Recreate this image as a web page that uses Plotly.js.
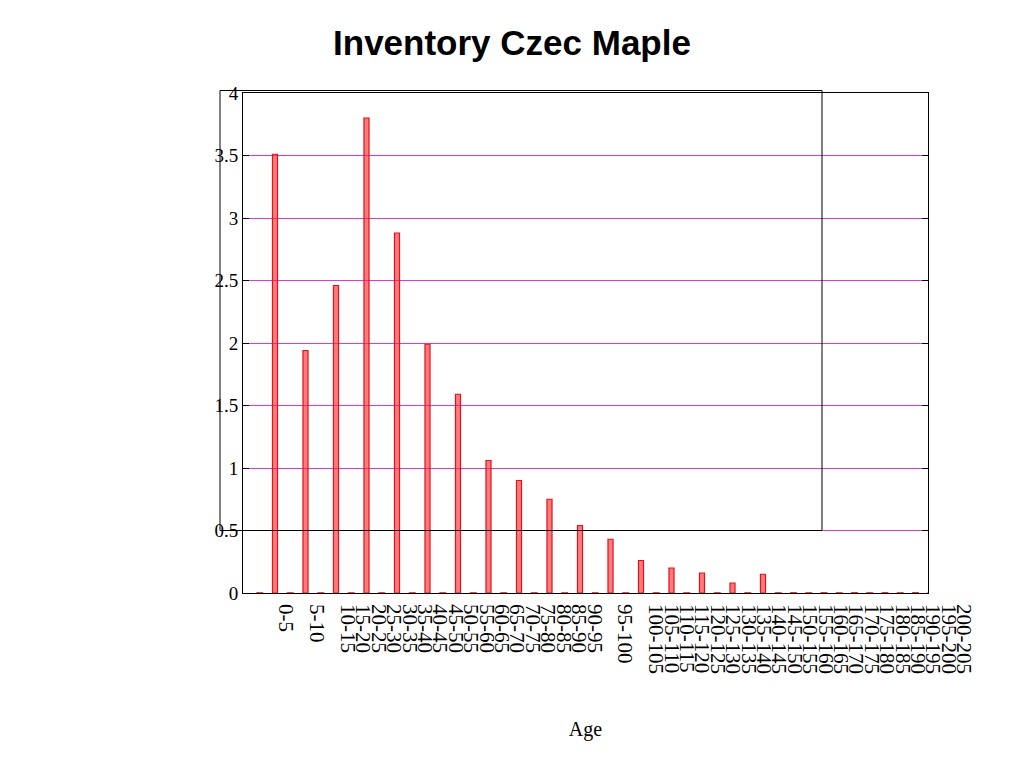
<!DOCTYPE html>
<html>
<head>
<meta charset="utf-8">
<script src="https://cdn.plot.ly/plotly-3.0.1.min.js"></script>
<style>
  html, body { margin: 0; padding: 0; background: #ffffff; }
  #chart { width: 1024px; height: 768px; }
</style>
</head>
<body>
<div id="chart"></div>
<script>
// ---------------- data ----------------
const ageClasses = [
  '0-5', '5-10', '10-15', '15-20', '20-25', '25-30', '30-35', '35-40', '40-45', '45-50',
  '50-55', '55-60', '60-65', '65-70', '70-75', '75-80', '80-85', '85-90', '90-95', '95-100',
  '100-105', '105-110', '110-115', '115-120', '120-125', '125-130', '130-135', '135-140',
  '140-145', '145-150', '150-155', '155-160', '160-165', '165-170', '170-175', '175-180',
  '180-185', '185-190', '190-195', '195-200', '200-205'
];

const inventory = [
  3.51, 1.94, 2.46, 3.80, 2.88, 1.99, 1.59, 1.06, 0.90, 0.75,
  0.54, 0.43, 0.26, 0.20, 0.16, 0.08, 0.15, 0, 0, 0,
  0, 0, 0, 0, 0, 0, 0, 0, 0, 0,
  0, 0, 0, 0, 0, 0, 0, 0, 0, 0,
  0
];

// second (empty) series drawn just left of each inventory bar
const emptySeries = [
  0, 0, 0, 0, 0, 0, 0, 0, 0, 0,
  0, 0, 0, 0, 0, 0, 0, 0, 0, 0,
  0, 0, 0, 0, 0, 0, 0, 0, 0, 0,
  0, 0, 0, 0, 0, 0, 0, 0, 0, 0,
  0
];

const yTicks = [0, 0.5, 1, 1.5, 2, 2.5, 3, 3.5, 4];

// ---------------- layout constants ----------------
const PLOT_L = 243, PLOT_R = 928, PLOT_T = 93, PLOT_B = 593, LABEL_R = 990;
const PX_PER_CLASS = 30.5, FIRST_BAR_PX = 275;
const xMin = (PLOT_L - FIRST_BAR_PX) / PX_PER_CLASS;
const xMax = (PLOT_R - FIRST_BAR_PX) / PX_PER_CLASS;
const xMax2 = (LABEL_R - FIRST_BAR_PX) / PX_PER_CLASS;
const mainDomain = (PLOT_R - PLOT_L) / (LABEL_R - PLOT_L);

// tick label placement (labels are packed at half-class spacing, shifted by label length)
const LABEL0 = 1.38, LABEL_STEP = 0.505;
const labelPos = ageClasses.map((lab, k) => LABEL0 + LABEL_STEP * (k + lab.length - 5));

const classIdx = ageClasses.map((_, i) => i);

// zero-height bars are drawn as a flat outline on the baseline
const zeroX = [], zeroY = [];
inventory.forEach((v, i) => { if (v === 0) { zeroX.push(i); zeroY.push(v); } });
emptySeries.forEach((v, i) => { if (v === 0) { zeroX.push(i - 0.5); zeroY.push(v); } });

const RED_FILL = 'rgba(255, 40, 40, 0.62)';
const RED_LINE = 'rgb(228, 16, 28)';
const SERIF = 'Liberation Serif, Times New Roman, serif';

const traces = [
  {
    type: 'bar',
    x: classIdx,
    y: inventory,
    width: 0.165,
    marker: { color: RED_FILL, line: { color: RED_LINE, width: 1.2 } },
    hoverinfo: 'y',
    showlegend: false
  },
  {
    type: 'scatter',
    mode: 'markers',
    x: zeroX,
    y: zeroY,
    marker: { symbol: 'line-ew', size: 5, line: { color: RED_LINE, width: 1.6 } },
    cliponaxis: true,
    hoverinfo: 'skip',
    showlegend: false
  },
  {
    type: 'scatter', mode: 'markers', x: [], y: [],
    xaxis: 'x2', yaxis: 'y2', showlegend: false, hoverinfo: 'skip'
  }
];

const layout = {
  width: 1024,
  height: 768,
  paper_bgcolor: '#ffffff',
  plot_bgcolor: 'rgba(0,0,0,0)',
  margin: { l: PLOT_L, r: 1024 - LABEL_R, t: PLOT_T, b: 768 - PLOT_B, pad: 0 },
  showlegend: false,
  title: {
    text: 'Inventory Czec Maple',
    font: { family: 'Liberation Sans, Arial, sans-serif', size: 35, color: '#000000', weight: 'bold' },
    x: 0.5, xref: 'container', xanchor: 'center',
    y: 1 - 43 / 768, yref: 'container', yanchor: 'middle'
  },
  xaxis: {
    domain: [0, mainDomain],
    range: [xMin, xMax],
    showline: true, mirror: true, linecolor: '#000000', linewidth: 1,
    ticks: '', showticklabels: false, showgrid: false, zeroline: false,
    automargin: false,
    title: { text: 'Age', font: { family: SERIF, size: 20, color: '#000000' }, standoff: 128 }
  },
  yaxis: {
    range: [0, 4],
    tickmode: 'array', tickvals: yTicks,
    showline: true, mirror: 'ticks', linecolor: '#000000', linewidth: 1,
    ticks: 'inside', ticklen: 6, tickcolor: '#000000',
    showgrid: true, gridcolor: '#d93ad9', gridwidth: 1,
    zeroline: false, automargin: false,
    tickfont: { family: SERIF, size: 19, color: '#000000' }
  },
  xaxis2: {
    domain: [0, 1], anchor: 'y2',
    range: [xMin, xMax2],
    tickmode: 'array', tickvals: labelPos, ticktext: ageClasses,
    tickangle: 90, ticks: '', showline: false, showgrid: false, zeroline: false,
    automargin: false, ticklabelstandoff: 10,
    tickfont: { family: SERIF, size: 21, color: '#000000' }
  },
  yaxis2: {
    domain: [0, 1], anchor: 'x2', range: [0, 4], visible: false
  },
  shapes: [
    {
      type: 'rect', xref: 'paper', yref: 'paper',
      x0: (220 - PLOT_L) / (LABEL_R - PLOT_L), x1: (822 - PLOT_L) / (LABEL_R - PLOT_L),
      y0: (PLOT_B - 530.5) / (PLOT_B - PLOT_T), y1: (PLOT_B - 90.5) / (PLOT_B - PLOT_T),
      line: { color: '#000000', width: 1 }, fillcolor: 'rgba(0,0,0,0)', layer: 'above'
    }
  ]
};

Plotly.newPlot('chart', traces, layout, { staticPlot: true, displayModeBar: false });
</script>
</body>
</html>
